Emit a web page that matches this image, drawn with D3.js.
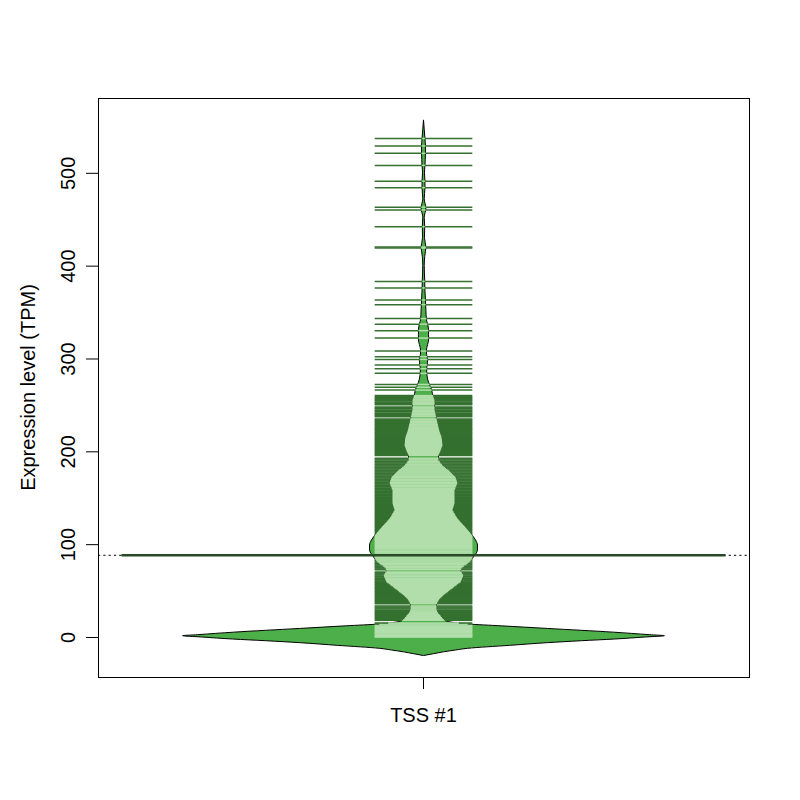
<!DOCTYPE html>
<html>
<head>
<meta charset="utf-8">
<script src="https://cdn.jsdelivr.net/npm/d3@7"></script>
<style>
  body { margin: 0; background: #fff; }
  svg text { font-family: "Liberation Sans", Arial, Helvetica, sans-serif; }
</style>
</head>
<body>
<script>

// one bean, one category
var categories = ["TSS #1"];
var yTicks = [0, 100, 200, 300, 400, 500];
var meanTPM = 88;

// bean outline: TPM value and kernel density (as a fraction of the widest point)
var profileTPM = [-20, -18, -16, -14, -12.2, -9, -6.1, -4, -2.2, 0, 1.4, 2.5, 5.2, 9.2, 12, 14, 16, 18,
  21.6, 26.9, 30, 34.5, 37.7, 41, 45.3, 52.8, 59.3, 66.8, 71.1, 74.4, 80.8, 86.2, 93.8, 99.1, 104.5,
  112, 118.5, 124, 129.3, 136.9, 144.4, 158.4, 166, 172.4, 180, 185, 190.7, 196.1, 201, 206.9, 215.5,
  222, 230.6, 244.6, 255.4, 258.6, 262, 266.2, 271, 277, 283, 288, 293, 298, 304, 309, 315, 320, 326,
  331, 337, 342, 352, 363, 374, 384, 400, 410, 420, 430, 442, 452, 462, 472, 484, 491, 500, 508, 521,
  529, 537, 547, 557];
var profileDensity = [0, .041, .083, .133, .183, .357, .515, .656, .793, .921, 1, .938, .788, .515, .324, .183, .116, .087,
  .075, .058, .054, .054, .058, .066, .083, .120, .154, .166, .154, .158, .191, .207, .224, .224, .216,
  .195, .174, .154, .137, .120, .129, .129, .141, .133, .104, .079, .062, .062, .071, .079, .075,
  .066, .058, .046, .046, .041, .037, .034, .026, .018, .014, .013, .015, .017, .013, .012, .017, .021, .021,
  .021, .017, .012, .010, .008, .006, .005, .003, .005, .010, .004, .005, .003, .010, .003, .006, .006, .004, .006, .008,
  .008, .006, .003, 0];

// individual samples (TPM), one bean line each
var samplesTPM = [
  0, 0.6, 1.5, 2.3, 3.1, 4.2, 5.0, 5.9, 7.1, 8.0, 8.8, 9.9, 11.0, 11.8, 12.9, 14.0, 15.1, 17.9, 19.0, 20.2,
  21.1, 22.3, 23.2, 24.4, 25.6, 26.5, 27.8, 28.9, 30.1, 31.2, 32.3, 33.4, 35.9, 37.0, 38.2, 39.1, 40.3, 41.4,
  42.5, 43.7, 44.6, 45.8, 46.9, 48.0, 49.1, 50.0, 51.2, 52.3, 53.1, 54.2, 55.4, 56.3, 57.5, 58.6, 59.4, 60.5,
  61.6, 62.7, 63.6, 64.8, 65.7, 66.9, 68.0, 69.1, 70.0, 72.4, 73.3, 74.5, 75.6, 76.5, 77.7, 78.8, 79.6, 80.7,
  81.9, 82.8, 83.9, 85.0, 86.1, 87.2, 88.3, 89.2, 90.4, 91.5, 92.4, 93.6, 94.7, 95.5, 96.6, 97.8, 98.9, 99.8,
  101.0, 102.1, 103.0, 104.2, 105.3, 106.2, 107.4, 108.5, 109.4, 110.6, 111.7, 112.6, 113.8, 114.9, 115.8,
  117.0, 118.1, 119.0, 120.2, 121.3, 122.2, 123.4, 124.5, 125.4, 126.6, 127.7, 128.6, 129.8, 130.9, 131.8,
  133.0, 134.1, 135.0, 136.2, 137.3, 138.2, 139.4, 140.5, 141.4, 142.6, 143.7, 144.6, 145.8, 146.9, 147.8,
  149.0, 150.1, 151.0, 152.2, 153.3, 154.2, 155.4, 156.5, 157.4, 158.6, 159.7, 160.6, 161.8, 162.9, 163.8,
  165.0, 166.1, 167.0, 168.2, 169.3, 170.2, 171.4, 172.5, 173.4, 174.6, 175.7, 176.6, 177.8, 178.9, 179.8,
  181.0, 182.1, 183.0, 184.2, 185.3, 186.2, 187.4, 188.5, 189.4, 190.6, 191.7, 192.6, 195.6, 196.7, 197.6,
  198.8, 199.9, 200.8, 202.0, 203.1, 204.0, 205.2, 206.3, 207.2, 208.4, 209.5, 210.4, 211.6, 212.7, 213.6,
  214.8, 215.9, 216.8, 218.0, 219.1, 220.0, 221.2, 222.3, 223.2, 224.4, 225.5, 226.4, 227.6, 228.7, 229.6,
  230.8, 231.9, 232.8, 234.0, 234.9, 237.3, 238.2, 239.4, 240.5, 241.4, 242.6, 243.7, 244.6, 245.8, 246.9,
  247.8, 250.1, 251.3, 252.4, 253.2, 254.5, 255.6, 256.5, 257.7, 258.8, 260.0,
  266, 269, 272, 284, 289, 293, 299, 302, 308, 322, 330, 337, 343, 358, 363, 376, 383,
  419, 420, 442, 460, 463, 484, 491, 508, 521, 529, 537
];

// colours: bean area, lines inside bean, lines outside bean, average line
var beanFill = "#4daf4a",
    lineInside = "#b2deab",
    lineOutside = "#34702f",
    avgColor = "#284a27";

var margin = {top: 98, right: 51, bottom: 123, left: 98},
    width = 800 - margin.left - margin.right,
    height = 800 - margin.top - margin.bottom;

var svg = d3.select("body").append("svg")
    .attr("width", width + margin.left + margin.right)
    .attr("height", height + margin.top + margin.bottom)
  .append("g")
    .attr("transform", "translate(" + margin.left + "," + margin.top + ")");

var x = d3.scaleLinear().domain([0.5, 1.5]).range([0, width]);
var y = d3.scaleLinear().domain([-43.1, 580.6]).range([height, 0]);

var beanMax = 0.37,     // half width of the widest point, in x units
    lineHalf = 0.075,   // half length of a bean line
    avgHalf = 0.464;    // half length of the average line

var cx = x(1);
var wScale = d3.scaleLinear().domain([0, 1]).range([0, x(1 + beanMax) - cx]);
var densityAt = d3.scaleLinear().domain(profileTPM).range(profileDensity).clamp(true);
var L = x(1 + lineHalf) - cx;

// overall mean, dotted across the plot
svg.append("line")
    .attr("x1", 0).attr("x2", width)
    .attr("y1", y(meanTPM)).attr("y2", y(meanTPM))
    .attr("stroke", "#000")
    .attr("stroke-width", 1)
    .attr("stroke-dasharray", "2.2,3.1");

// the bean
var profile = profileTPM.map(function(v, i) { return {v: v, d: profileDensity[i]}; });
var area = d3.area()
    .y(function(d) { return y(d.v); })
    .x0(function(d) { return cx - wScale(d.d); })
    .x1(function(d) { return cx + wScale(d.d); })
    .curve(d3.curveMonotoneY);

svg.append("path")
    .datum(profile)
    .attr("d", area)
    .attr("fill", beanFill)
    .attr("stroke", "#000")
    .attr("stroke-width", 1);

// bean lines: the part inside the bean is light, outside is dark
var segs = [];
samplesTPM.forEach(function(v) {
  var w = wScale(densityAt(v));
  if (w >= L) {
    segs.push({v: v, a: cx - L, b: cx + L, c: lineInside});
  } else {
    segs.push({v: v, a: cx - L, b: cx - w, c: lineOutside});
    segs.push({v: v, a: cx + w, b: cx + L, c: lineOutside});
    segs.push({v: v, a: cx - w, b: cx + w, c: lineInside});
  }
});

svg.selectAll("line.bl")
    .data(segs)
  .enter().append("line")
    .attr("class", "bl")
    .attr("x1", function(d) { return d.a; })
    .attr("x2", function(d) { return d.b; })
    .attr("y1", function(d) { return y(d.v); })
    .attr("y2", function(d) { return y(d.v); })
    .attr("stroke", function(d) { return d.c; })
    .attr("stroke-width", 1.5);

// bean average
svg.append("line")
    .attr("x1", x(1 - avgHalf)).attr("x2", x(1 + avgHalf))
    .attr("y1", y(meanTPM)).attr("y2", y(meanTPM))
    .attr("stroke", avgColor)
    .attr("stroke-width", 2.6);

// box
svg.append("rect")
    .attr("x", 0.5).attr("y", 0.5)
    .attr("width", width).attr("height", height)
    .attr("fill", "none")
    .attr("stroke", "#000")
    .attr("stroke-width", 1);

// y axis
var yAxis = svg.append("g")
    .call(d3.axisLeft(y).tickValues(yTicks).tickSize(12).tickSizeOuter(0).tickFormat(d3.format("d")));
yAxis.select(".domain").attr("d", "M0.5," + y(0) + "V" + y(500));
yAxis.selectAll(".tick line").attr("stroke", "#000");
yAxis.selectAll(".tick text")
    .attr("x", null).attr("dy", null)
    .attr("transform", "translate(-23,0) rotate(-90)")
    .attr("text-anchor", "middle")
    .attr("fill", "#000")
    .style("font-size", "20px");

// x axis, one tick per category
var xAxis = svg.append("g")
    .attr("transform", "translate(0," + height + ")");
xAxis.selectAll("line")
    .data(categories)
  .enter().append("line")
    .attr("x1", function(d, i) { return x(i + 1); })
    .attr("x2", function(d, i) { return x(i + 1); })
    .attr("y1", 0).attr("y2", 12)
    .attr("stroke", "#000");
xAxis.selectAll("text")
    .data(categories)
  .enter().append("text")
    .attr("x", function(d, i) { return x(i + 1); })
    .attr("y", 45)
    .attr("text-anchor", "middle")
    .style("font-size", "20px")
    .text(function(d) { return d; });

// y title
svg.append("text")
    .attr("transform", "translate(-63," + (height / 2) + ") rotate(-90)")
    .attr("text-anchor", "middle")
    .style("font-size", "20px")
    .text("Expression level (TPM)");

</script>
</body>
</html>
